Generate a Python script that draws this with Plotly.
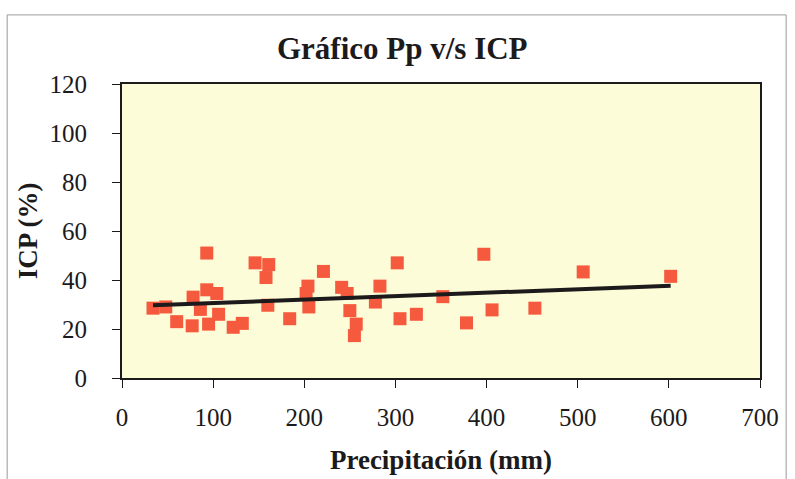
import numpy as np
import plotly.graph_objects as go

# Data
precip_mm = [34, 48, 60, 77, 78, 86, 93, 93, 95, 104, 106, 122, 132, 146, 158, 161, 160,
             184, 204, 202, 205, 221, 241, 247, 250, 257, 255, 278, 283, 302, 305, 323,
             352, 378, 397, 406, 453, 506, 602]
icp_pct = [28.5, 29, 23, 21.3, 33, 28, 51, 36, 22, 34.5, 26, 20.7, 22.3, 47, 41, 46.3, 29.7,
           24.2, 37.5, 34.5, 29, 43.5, 37, 34.5, 27.5, 22, 17.3, 31, 37.5, 47, 24.2, 26,
           33.2, 22.5, 50.5, 27.8, 28.5, 43.3, 41.5]

x_ticks = [0, 100, 200, 300, 400, 500, 600, 700]
y_ticks = [0, 20, 40, 60, 80, 100, 120]

# Linear trend line (least squares)
slope, intercept = np.polyfit(precip_mm, icp_pct, 1)
trend_x = [min(precip_mm), max(precip_mm)]
trend_y = [slope * v + intercept for v in trend_x]

FONT = "Liberation Serif"
INK = "#1c1a1a"

fig = go.Figure()
fig.add_trace(go.Scatter(
    x=precip_mm, y=icp_pct, mode="markers",
    marker=dict(symbol="square", size=13, color="#F65A3E", line=dict(width=0)),
    showlegend=False,
))
fig.add_trace(go.Scatter(
    x=trend_x, y=trend_y, mode="lines",
    line=dict(color=INK, width=4),
    showlegend=False,
))

fig.update_layout(
    width=795, height=479,
    margin=dict(l=122, r=35, t=84, b=101, autoexpand=False),
    paper_bgcolor="white",
    plot_bgcolor="#FDFCD8",
    font=dict(family=FONT, color=INK),
    title=dict(text="<b>Gráfico Pp v/s ICP</b>", x=0.506, xanchor="center",
               y=0.9, yanchor="middle", font=dict(family=FONT, size=31, color=INK)),
    xaxis=dict(
        range=[0, 700], tickvals=x_ticks, ticktext=[str(v) for v in x_ticks],
        showgrid=False, zeroline=False, automargin=False,
        showline=True, linecolor=INK, linewidth=2, mirror=True,
        ticks="outside", ticklen=8, tickcolor=INK, ticklabelstandoff=8,
        tickfont=dict(family=FONT, size=25, color=INK),
        title=dict(text="<b>Precipitación (mm)</b>", standoff=20,
                   font=dict(family=FONT, size=27, color=INK)),
    ),
    yaxis=dict(
        range=[0, 120], tickvals=y_ticks, ticktext=[str(v) for v in y_ticks],
        showgrid=False, zeroline=False, automargin=False,
        showline=True, linecolor=INK, linewidth=2, mirror=True,
        ticks="outside", ticklen=8, tickcolor=INK, ticklabelstandoff=20,
        tickfont=dict(family=FONT, size=25, color=INK),
        title=dict(text="<b>ICP (%)</b>", standoff=4,
                   font=dict(family=FONT, size=27, color=INK)),
    ),
    shapes=[dict(type="rect", xref="paper", yref="paper",
                 x0=-0.180, x1=1.041, y0=-0.36, y1=1.235,
                 line=dict(color="#9a9a9a", width=1), layer="below")],
)

fig.write_html("out.html")
